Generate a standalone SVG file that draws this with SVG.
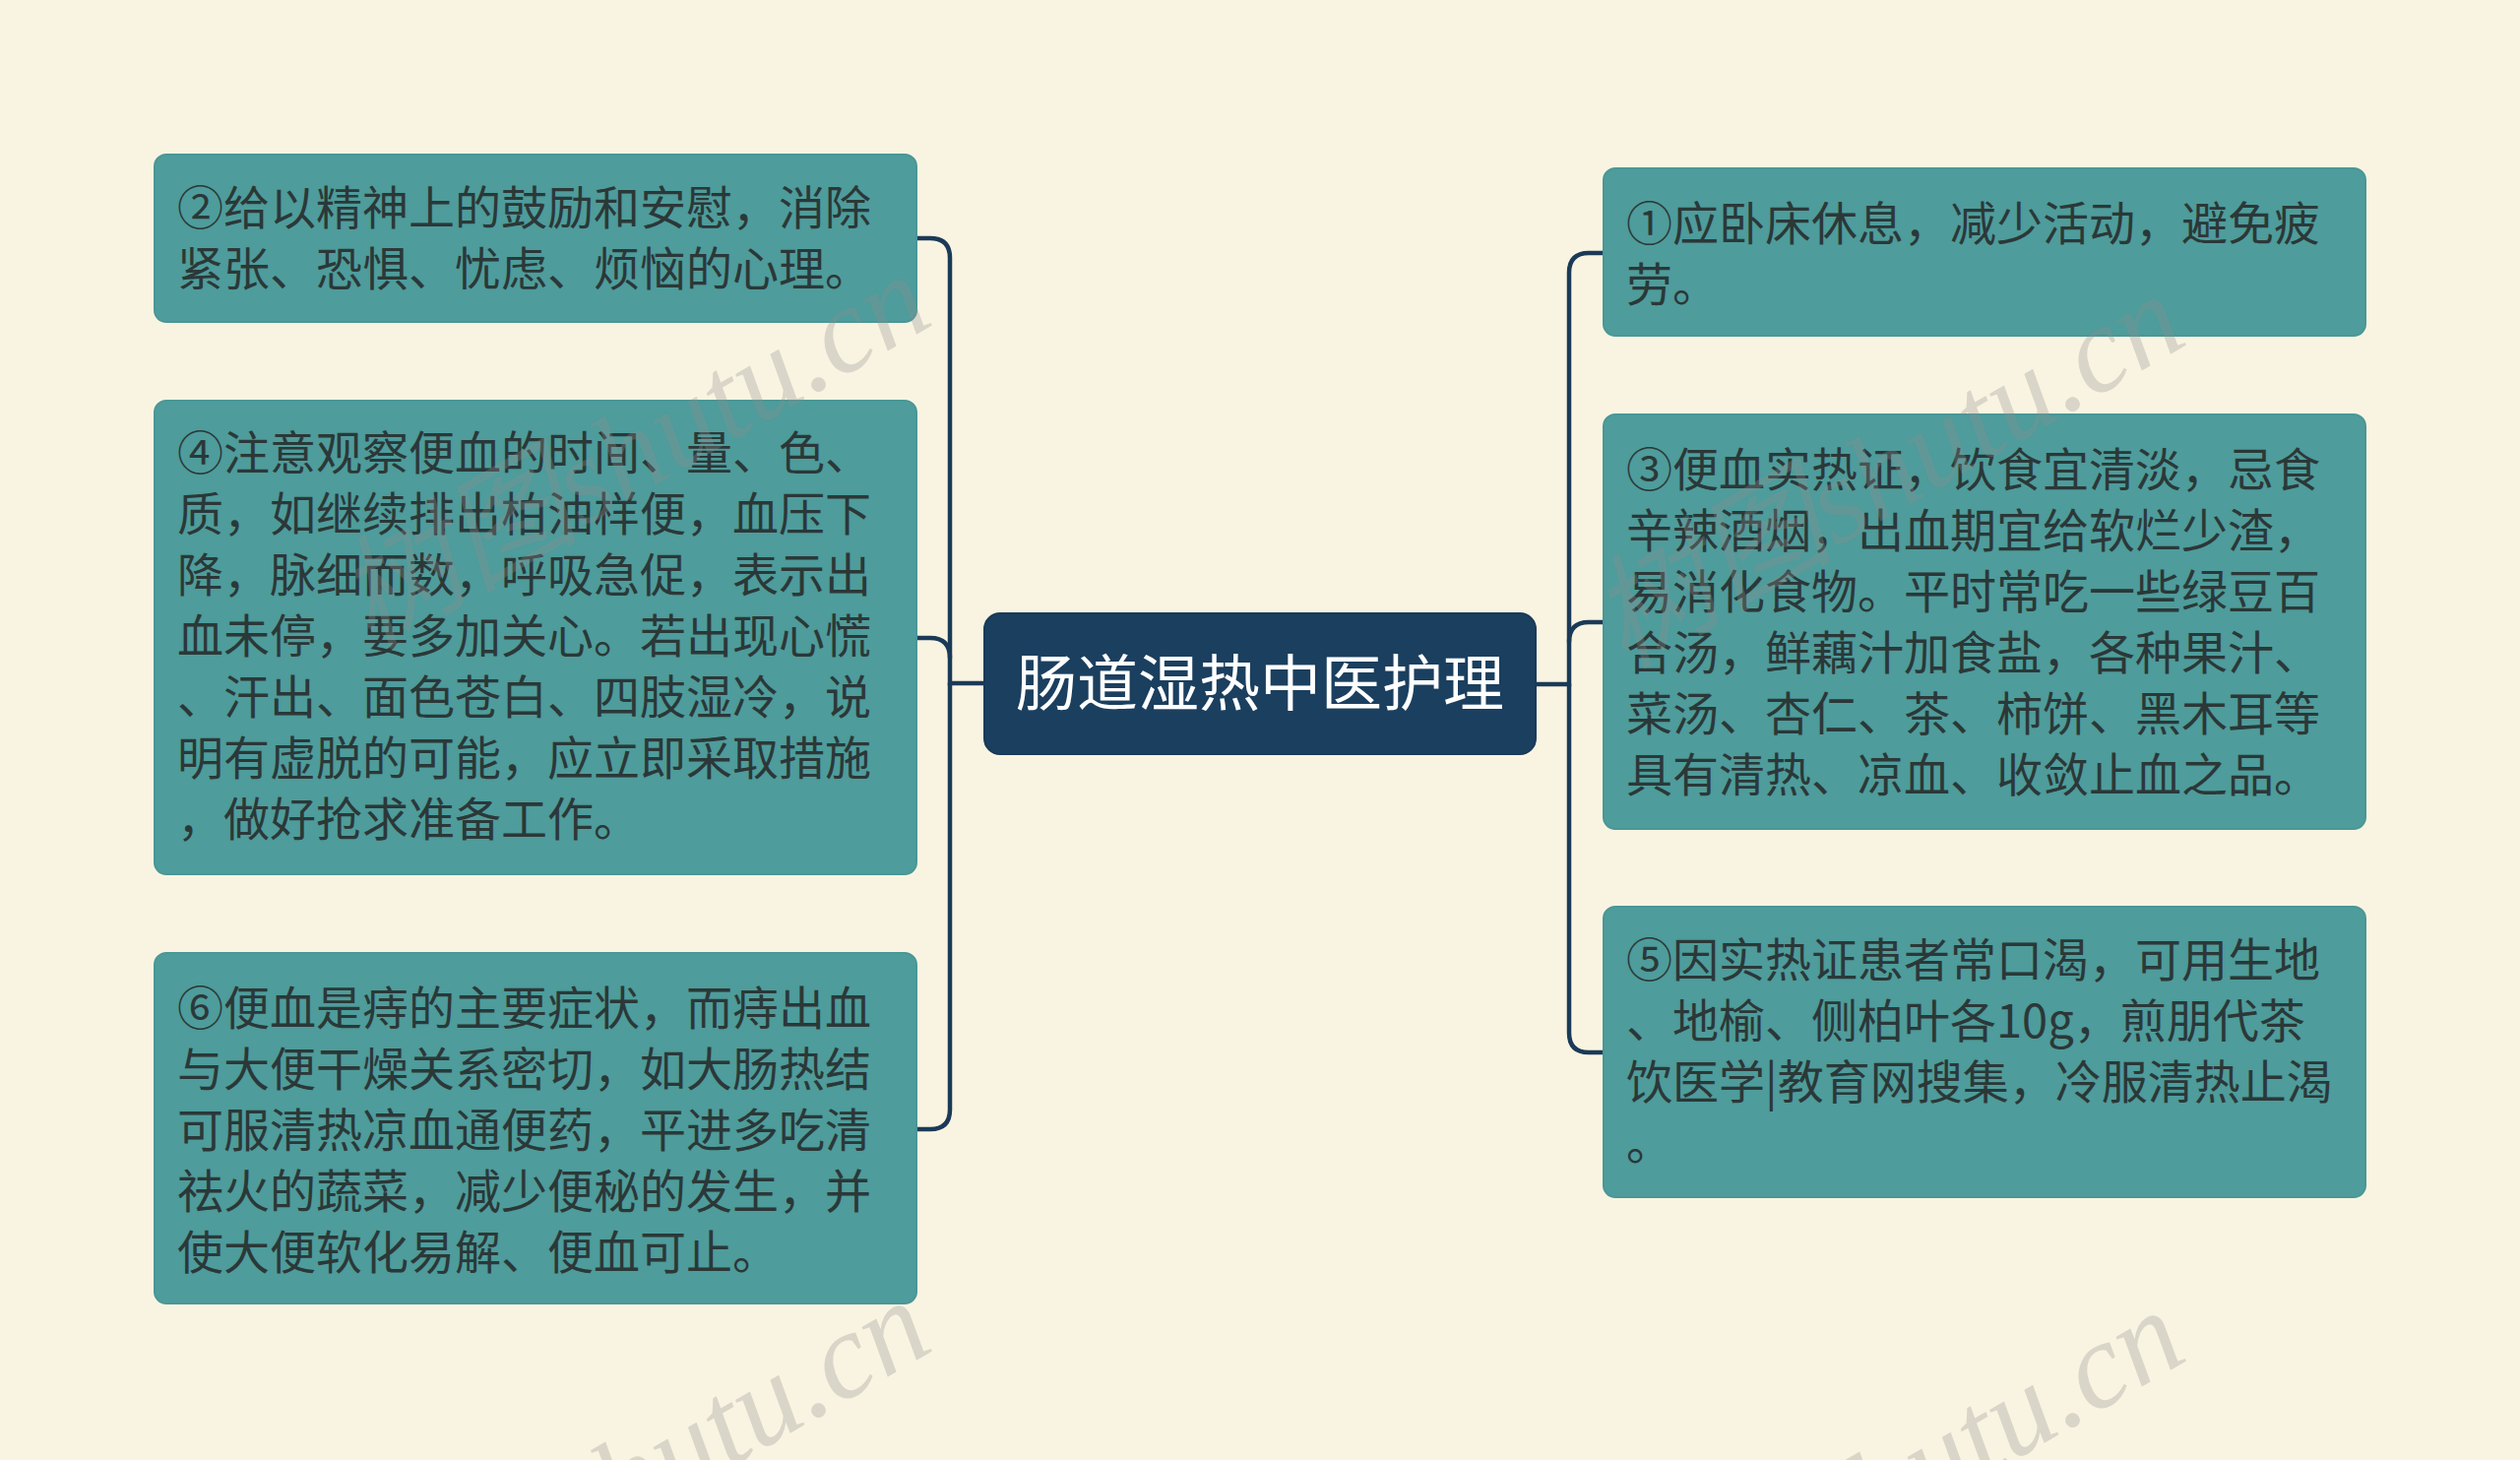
<svg xmlns="http://www.w3.org/2000/svg" width="2560" height="1483" viewBox="0 0 2560 1483">
<style>
.bg{fill:#F9F4E1}
.box{fill:#4E9C9B;stroke:#4A9796;stroke-width:2}
.txt{font-family:"Noto Sans CJK SC","Noto Sans",sans-serif;font-size:47px;fill:#2B3838}
.root{fill:#1B3F5F;stroke:#1B3A58;stroke-width:2}
.roottxt{font-family:"Noto Sans CJK SC","Noto Sans",sans-serif;font-size:62px;fill:#FFFFFF;text-anchor:middle}
.conn{fill:none;stroke:#1B3A58;stroke-width:4.5;stroke-linecap:round}
.wm{font-family:"Liberation Serif","Noto Sans CJK SC",serif;font-size:124px;fill:#8E8E8E;fill-opacity:0.3;font-style:italic}
</style>
<rect class="bg" x="0" y="0" width="2560" height="1483"/>

<g id="connectors">
<path class="conn" d="M 1000 694 H 965 V 262 Q 965 242 945 242 H 931"/>
<path class="conn" d="M 965 668 Q 965 648 945 648 H 931"/>
<path class="conn" d="M 965 694 V 1127 Q 965 1147 945 1147 H 931"/>
<path class="conn" d="M 1560 695 H 1594 V 277 Q 1594 257 1614 257 H 1629"/>
<path class="conn" d="M 1594 652 Q 1594 632 1614 632 H 1629"/>
<path class="conn" d="M 1594 695 V 1049 Q 1594 1069 1614 1069 H 1629"/>
</g>

<g id="root">
<rect class="root" x="1000" y="623" width="560" height="143" rx="16"/>
<text class="roottxt" x="1280" y="717">肠道湿热中医护理</text>
</g>

<g id="node-2">
<rect class="box" x="157" y="157" width="774" height="170" rx="12"/>
<text class="txt"><tspan x="180" y="228">②给以精神上的鼓励和安慰，消除</tspan><tspan x="180" y="290">紧张、恐惧、忧虑、烦恼的心理。</tspan></text>
</g>

<g id="node-4">
<rect class="box" x="157" y="407" width="774" height="481" rx="12"/>
<text class="txt"><tspan x="180" y="477">④注意观察便血的时间、量、色、</tspan><tspan x="180" y="539">质，如继续排出柏油样便，血压下</tspan><tspan x="180" y="601">降，脉细而数，呼吸急促，表示出</tspan><tspan x="180" y="663">血未停，要多加关心。若出现心慌</tspan><tspan x="180" y="725">、汗出、面色苍白、四肢湿冷，说</tspan><tspan x="180" y="787">明有虚脱的可能，应立即采取措施</tspan><tspan x="180" y="849">，做好抢求准备工作。</tspan></text>
</g>

<g id="node-6">
<rect class="box" x="157" y="968" width="774" height="356" rx="12"/>
<text class="txt"><tspan x="180" y="1041">⑥便血是痔的主要症状，而痔出血</tspan><tspan x="180" y="1103">与大便干燥关系密切，如大肠热结</tspan><tspan x="180" y="1165">可服清热凉血通便药，平进多吃清</tspan><tspan x="180" y="1227">祛火的蔬菜，减少便秘的发生，并</tspan><tspan x="180" y="1289">使大便软化易解、便血可止。</tspan></text>
</g>

<g id="node-1">
<rect class="box" x="1629" y="171" width="774" height="170" rx="12"/>
<text class="txt"><tspan x="1652" y="244">①应卧床休息，减少活动，避免疲</tspan><tspan x="1652" y="306">劳。</tspan></text>
</g>

<g id="node-3">
<rect class="box" x="1629" y="421" width="774" height="421" rx="12"/>
<text class="txt"><tspan x="1652" y="494">③便血实热证，饮食宜清淡，忌食</tspan><tspan x="1652" y="556">辛辣酒烟，出血期宜给软烂少渣，</tspan><tspan x="1652" y="618">易消化食物。平时常吃一些绿豆百</tspan><tspan x="1652" y="680">合汤，鲜藕汁加食盐，各种果汁、</tspan><tspan x="1652" y="742">菜汤、杏仁、茶、柿饼、黑木耳等</tspan><tspan x="1652" y="804">具有清热、凉血、收敛止血之品。</tspan></text>
</g>

<g id="node-5">
<rect class="box" x="1629" y="921" width="774" height="295" rx="12"/>
<text class="txt"><tspan x="1652" y="992">⑤因实热证患者常口渴，可用生地</tspan><tspan x="1652" y="1054">、地榆、侧柏叶各10g，煎朋代茶</tspan><tspan x="1652" y="1116">饮医学|教育网搜集，冷服清热止渴</tspan><tspan x="1652" y="1178">。</tspan></text>
</g>

<g id="watermarks">
<text class="wm" transform="translate(376 660) rotate(-30)">树图shutu.cn</text>
<text class="wm" transform="translate(1650 680) rotate(-30)">树图shutu.cn</text>
<text class="wm" transform="translate(376 1702) rotate(-30)">树图shutu.cn</text>
<text class="wm" transform="translate(1650 1712) rotate(-30)">树图shutu.cn</text>
</g>
</svg>
